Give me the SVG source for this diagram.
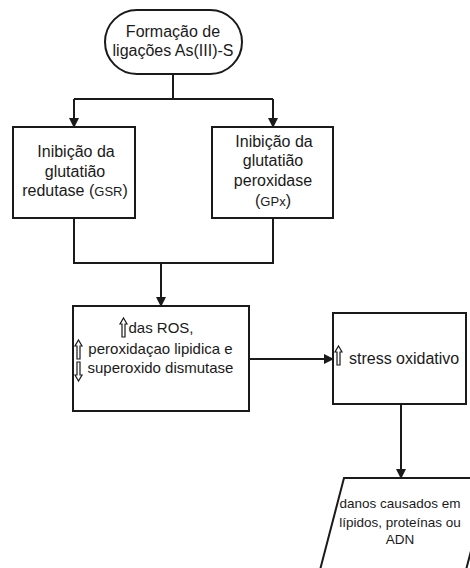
<svg xmlns="http://www.w3.org/2000/svg" width="470" height="568" viewBox="0 0 470 568">
  <style>
    .box { fill: #ffffff; stroke: #1a1a1a; stroke-width: 2; }
    .edge { fill: none; stroke: #1a1a1a; stroke-width: 2; }
    .lbl { font-family: "Liberation Sans", Arial, sans-serif; font-size: 16px; fill: #1a1a1a; text-anchor: middle; }
    .mid { font-size: 15px; }
    .small { font-size: 13px; }
    .sym { fill: #ffffff; stroke: #1a1a1a; stroke-width: 1.2; }
  </style>
  <defs>
    <marker id="arrow" markerWidth="10" markerHeight="10" refX="9" refY="5" orient="auto" markerUnits="userSpaceOnUse">
      <path d="M0,0 L10,5 L0,10 Z" fill="#1a1a1a"/>
    </marker>
    <!-- hollow up-arrow symbol used inside labels -->
    <path id="upArrow" d="M3.5,0 L7,6 L5,6 L5,19 L2,19 L2,6 L0,6 Z"/>
  </defs>

  <rect width="470" height="568" fill="#ffffff"/>

  <g id="connectors">
    <path class="edge" d="M173,74 V99"/>
    <path class="edge" d="M74,99 H273"/>
    <path class="edge" d="M74,99 V127" marker-end="url(#arrow)"/>
    <path class="edge" d="M273,99 V127" marker-end="url(#arrow)"/>
    <path class="edge" d="M74,218 V263 H273 V218"/>
    <path class="edge" d="M161,263 V306" marker-end="url(#arrow)"/>
    <path class="edge" d="M249,359 H333" marker-end="url(#arrow)"/>
    <path class="edge" d="M401,404 V478" marker-end="url(#arrow)"/>
  </g>

  <g id="node-start">
    <rect class="box" x="105" y="10" width="137" height="64" rx="32" ry="32"/>
    <text class="lbl" x="173" y="37">Formação de</text>
    <text class="lbl" x="173" y="56">ligações As(III)-S</text>
  </g>

  <g id="node-gsr">
    <rect class="box" x="13" y="127" width="122" height="91"/>
    <text class="lbl" x="76" y="157">Inibição da</text>
    <text class="lbl" x="75" y="177">glutatião</text>
    <text class="lbl" x="75" y="196">redutase (<tspan class="small">GSR</tspan>)</text>
  </g>

  <g id="node-gpx">
    <rect class="box" x="212" y="127" width="121" height="91"/>
    <text class="lbl" x="274" y="147">Inibição da</text>
    <text class="lbl" x="273" y="166">glutatião</text>
    <text class="lbl" x="273" y="186">peroxidase</text>
    <text class="lbl" x="273" y="206">(<tspan class="small">GPx</tspan>)</text>
  </g>

  <g id="node-ros">
    <rect class="box" x="73" y="306" width="176" height="105"/>
    <use href="#upArrow" class="sym" x="120" y="318"/>
    <use href="#upArrow" class="sym" x="75" y="340"/>
    <use href="#upArrow" class="sym" transform="translate(82,381) rotate(180)"/>
    <text class="lbl mid" x="161" y="333">das ROS,</text>
    <text class="lbl mid" x="160.5" y="354">peroxidaçao lipidica e</text>
    <text class="lbl mid" x="160.5" y="373">superoxido dismutase</text>
  </g>

  <g id="node-stress">
    <rect class="box" x="333" y="313" width="133" height="91"/>
    <use href="#upArrow" class="sym" x="335" y="346"/>
    <text class="lbl" x="349" y="364" text-anchor="start" style="text-anchor:start">stress oxidativo</text>
  </g>

  <g id="node-danos">
    <polygon class="box" points="344,478 490,478 466,570 320,570"/>
    <text class="lbl" x="400" y="508" style="font-size:13.5px">danos causados em</text>
    <text class="lbl" x="400" y="527" style="font-size:13.5px">lípidos, proteínas ou</text>
    <text class="lbl" x="400" y="544" style="font-size:13.5px">ADN</text>
  </g>
</svg>
